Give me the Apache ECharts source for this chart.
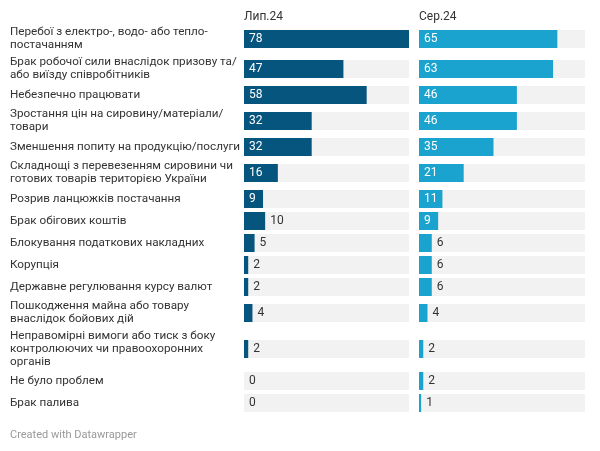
<!DOCTYPE html>
<html><head><meta charset="utf-8">
<script src="https://cdn.jsdelivr.net/npm/echarts@6/dist/echarts.min.js"></script>
<style>html,body{margin:0;padding:0;background:#fff}#c{width:600px;height:451px}</style>
</head><body><div id="c"></div>
<script>
const categories = [
  "Перебої з електро-, водо- або тепло-\nпостачанням",
  "Брак робочої сили внаслідок призову та/\nабо виїзду співробітників",
  "Небезпечно працювати",
  "Зростання цін на сировину/матеріали/\nтовари",
  "Зменшення попиту на продукцію/послуги",
  "Складнощі з перевезенням сировини чи\nготових товарів територією України",
  "Розрив ланцюжків постачання",
  "Брак обігових коштів",
  "Блокування податкових накладних",
  "Корупція",
  "Державне регулювання курсу валют",
  "Пошкодження майна або товару\nвнаслідок бойових дій",
  "Неправомірні вимоги або тиск з боку\nконтролюючих чи правоохоронних\nорганів",
  "Не було проблем",
  "Брак палива"
];
const july = [78, 47, 58, 32, 32, 16, 9, 10, 5, 2, 2, 4, 2, 0, 0];
const aug  = [65, 63, 46, 46, 35, 21, 11, 9, 6, 6, 6, 4, 2, 2, 1];
const columnTitles = ["Лип.24", "Сер.24"];
const footer = "Created with Datawrapper";

(function () {
  const FONT = 'Roboto, "Noto Sans", sans-serif';
  const panels = [
    { left: 244, width: 165, color: '#05557e', values: july, title: columnTitles[0] },
    { left: 419, width: 166, color: '#1ba3cf', values: aug, title: columnTitles[1] }
  ];
  const rowHeightByLines = { 1: 22, 2: 30, 3: 42 };
  const firstTop = 24;
  const axisMax = Math.max(...july, ...aug);

  const grids = [], xAxes = [], yAxes = [], series = [];
  let rowTop = firstTop;
  categories.forEach((cat, i) => {
    const lines = cat.split('\n').length;
    const h = rowHeightByLines[lines];
    panels.forEach((p, pi) => {
      const idx = grids.length;
      grids.push({ left: p.left, width: p.width, top: rowTop, height: h, containLabel: false });
      xAxes.push({ gridIndex: idx, type: 'value', min: 0, max: axisMax, show: false });
      yAxes.push({
        gridIndex: idx, type: 'category', data: [cat],
        axisLine: { show: false }, axisTick: { show: false }, splitLine: { show: false },
        axisLabel: {
          show: pi === 0, interval: 0, align: 'left', margin: p.left - 10,
          color: '#333', fontFamily: FONT, fontSize: 11.7, lineHeight: 13
        }
      });
      const v = p.values[i];
      const px = v / axisMax * p.width;
      const inside = px >= String(v).length * 7 + 8;
      series.push({
        type: 'bar', xAxisIndex: idx, yAxisIndex: idx, barWidth: 18,
        showBackground: true, backgroundStyle: { color: '#f2f2f2' },
        itemStyle: { color: p.color },
        silent: true, animation: false,
        data: [{
          value: v,
          label: {
            show: true,
            position: inside ? 'insideLeft' : 'right',
            distance: 5,
            color: inside ? '#ffffff' : '#333333',
            fontFamily: FONT, fontSize: 12
          }
        }]
      });
    });
    rowTop += h;
  });

  const graphics = panels.map(p => ({
    type: 'text', left: p.left, top: 11,
    style: { text: p.title, fill: '#333', font: '12px ' + FONT }
  }));
  graphics.push({
    type: 'text', left: 10, top: 430,
    style: { text: footer, fill: '#999', font: '11px ' + FONT }
  });

  const chart = echarts.init(document.getElementById('c'), null, { renderer: 'canvas' });
  chart.setOption({
    animation: false,
    grid: grids, xAxis: xAxes, yAxis: yAxes, series: series,
    graphic: graphics
  });
})();
</script>
</body></html>
